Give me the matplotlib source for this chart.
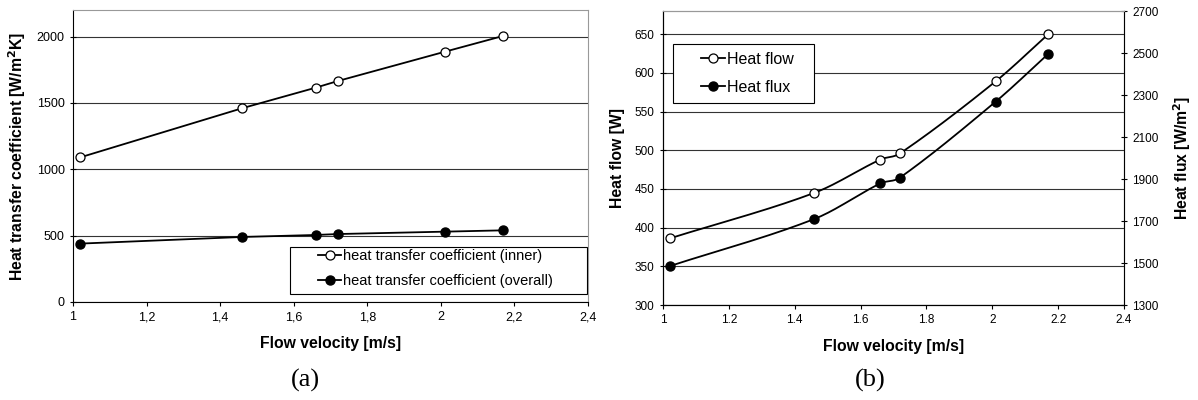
import numpy as np
import matplotlib.pyplot as plt
from matplotlib.lines import Line2D
from matplotlib.patches import Rectangle

plt.rcParams['font.family'] = ['Liberation Sans', 'DejaVu Sans']

# flow velocity [m/s] shared by both panels
velocity = [1.02, 1.46, 1.66, 1.72, 2.01, 2.17]

# panel (a): heat transfer coefficients [W/m2K]
htc_inner = [1090, 1460, 1615, 1665, 1885, 2005]
htc_overall = [440, 490, 505, 512, 530, 540]

# panel (b): heat flow [W] and heat flux [W/m2]
heat_flow = [386, 445, 488, 496, 589, 650]
heat_flux = [1485, 1710, 1879, 1907, 2268, 2496]

W, H = 1198, 400


def smooth(x, y, n=30):
    # cubic hermite curve through the points (smoothed line look)
    x = np.asarray(x, float)
    y = np.asarray(y, float)
    m = np.empty_like(y)
    m[1:-1] = (y[2:] - y[:-2]) / (x[2:] - x[:-2])
    m[0] = (y[1] - y[0]) / (x[1] - x[0])
    m[-1] = (y[-1] - y[-2]) / (x[-1] - x[-2])
    xs, ys = [], []
    t = np.linspace(0, 1, n)
    for i in range(len(x) - 1):
        h = x[i + 1] - x[i]
        h00 = 2 * t ** 3 - 3 * t ** 2 + 1
        h10 = t ** 3 - 2 * t ** 2 + t
        h01 = -2 * t ** 3 + 3 * t ** 2
        h11 = t ** 3 - t ** 2
        xs.extend(x[i] + h * t)
        ys.extend(h00 * y[i] + h10 * h * m[i] + h01 * y[i + 1] + h11 * h * m[i + 1])
    return xs, ys


def style_axes(ax, size):
    ax.set_axisbelow(True)
    ax.grid(axis='y', color='#333333', lw=0.8)
    ax.spines['top'].set_color('#999999')
    ax.spines['right'].set_color('#999999')
    ax.tick_params(axis='both', labelsize=size, length=3, width=0.8)
    ax.tick_params(axis='y', direction='inout', length=5)
    ax.tick_params(axis='x', direction='out')


def legend_box(ax, x0, y0, x1, y1):
    # frame drawn in pixel positions of the figure, converted to axes fraction
    l, b, w, h = ax.get_position().bounds
    ax0 = (x0 / W - l) / w
    ax1_ = (x1 / W - l) / w
    ay0 = ((1 - y1 / H) - b) / h
    ay1 = ((1 - y0 / H) - b) / h
    rect = Rectangle((ax0, ay0), ax1_ - ax0, ay1 - ay0, transform=ax.transAxes,
                     facecolor='white', edgecolor='black', lw=0.8, zorder=5)
    ax.add_patch(rect)


def pos(ax, px, py):
    l, b, w, h = ax.get_position().bounds
    return (px / W - l) / w, ((1 - py / H) - b) / h


fig = plt.figure(figsize=(W / 100, H / 100), dpi=100)

# ---- (a) ----
ax1 = fig.add_axes([73 / W, 1 - 302 / H, (588 - 73) / W, 292 / H])
ax1.plot(velocity, htc_inner, '-o', color='black', lw=1.3, ms=6.5, mfc='white',
         mec='black', mew=0.9)
ax1.plot(velocity, htc_overall, '-o', color='black', lw=1.3, ms=6.5, mfc='black',
         mec='black')
ax1.set_xlim(1, 2.4)
ax1.set_ylim(0, 2200)
ax1.set_xticks(np.arange(1, 2.41, 0.2))
ax1.set_xticklabels(['1', '1,2', '1,4', '1,6', '1,8', '2', '2,2', '2,4'])
ax1.set_yticks([0, 500, 1000, 1500, 2000])
style_axes(ax1, 9)
ax1.set_xlabel('Flow velocity [m/s]', fontsize=11.3, fontweight='bold', labelpad=9)
ax1.set_ylabel('Heat transfer coefficient [W/m$^\\mathbf{2}$K]', fontsize=11.3,
               fontweight='bold', labelpad=6)

handles_a = [Line2D([], [], color='black', lw=1.3, marker='o', ms=6.5, mfc='white',
                    mec='black', mew=0.9),
             Line2D([], [], color='black', lw=1.3, marker='o', ms=6.5, mfc='black',
                    mec='black')]
legend_box(ax1, 290, 247, 587, 294)
leg1 = ax1.legend(handles_a, ['heat transfer coefficient (inner)',
                              'heat transfer coefficient (overall)'],
                  loc='upper left', bbox_to_anchor=pos(ax1, 318, 249), fontsize=10.5,
                  frameon=False, handlelength=1.6, handletextpad=0.1, borderpad=0,
                  borderaxespad=0, labelspacing=0.75)
leg1.set_zorder(6)
fig.text(305 / W, 1 - 380 / H, '(a)', fontsize=19, family='Liberation Serif',
         ha='center', va='center')

# ---- (b) ----
ax2 = fig.add_axes([663 / W, 1 - 305 / H, (1124 - 663) / W, 294 / H])
ax3 = ax2.twinx()
sx, sy = smooth(velocity, heat_flow)
ax2.plot(sx, sy, color='black', lw=1.3)
ax2.plot(velocity, heat_flow, 'o', color='black', ms=6.5, mfc='white',
         mec='black', mew=0.9)
sx, sy = smooth(velocity, heat_flux)
ax3.plot(sx, sy, color='black', lw=1.3)
ax3.plot(velocity, heat_flux, 'o', color='black', ms=6.5, mfc='black',
         mec='black')
ax2.set_xlim(1, 2.4)
ax2.set_ylim(300, 680)
ax2.set_yticks(np.arange(300, 651, 50))
ax3.set_ylim(1300, 2700)
ax3.set_yticks(np.arange(1300, 2701, 200))
ax2.set_xticks(np.arange(1, 2.41, 0.2))
ax2.set_xticklabels(['1', '1.2', '1.4', '1.6', '1.8', '2', '2.2', '2.4'])
style_axes(ax2, 8.5)
ax3.spines['top'].set_color('#999999')
ax3.spines['right'].set_color('black')
ax3.tick_params(axis='y', labelsize=8.5, direction='inout', length=5, width=0.8)
ax2.set_xlabel('Flow velocity [m/s]', fontsize=11.3, fontweight='bold', labelpad=9)
ax2.set_ylabel('Heat flow [W]', fontsize=11.3, fontweight='bold', labelpad=7)
ax3.set_ylabel('Heat flux [W/m$^\\mathbf{2}$]', fontsize=11.3, fontweight='bold',
               labelpad=9)

handles_b = [Line2D([], [], color='black', lw=1.3, marker='o', ms=6.5, mfc='white',
                    mec='black', mew=0.9),
             Line2D([], [], color='black', lw=1.3, marker='o', ms=6.5, mfc='black',
                    mec='black')]
legend_box(ax3, 673, 44, 814, 103)
leg2 = ax3.legend(handles_b, ['Heat flow', 'Heat flux'], loc='upper left',
                  bbox_to_anchor=pos(ax3, 701, 52), fontsize=11.5, frameon=False,
                  handlelength=1.5, handletextpad=0.15, borderpad=0,
                  borderaxespad=0, labelspacing=0.8)
leg2.set_zorder(6)
fig.text(870 / W, 1 - 380 / H, '(b)', fontsize=19, family='Liberation Serif',
         ha='center', va='center')

fig.savefig('out.png', dpi=100, facecolor='white')
